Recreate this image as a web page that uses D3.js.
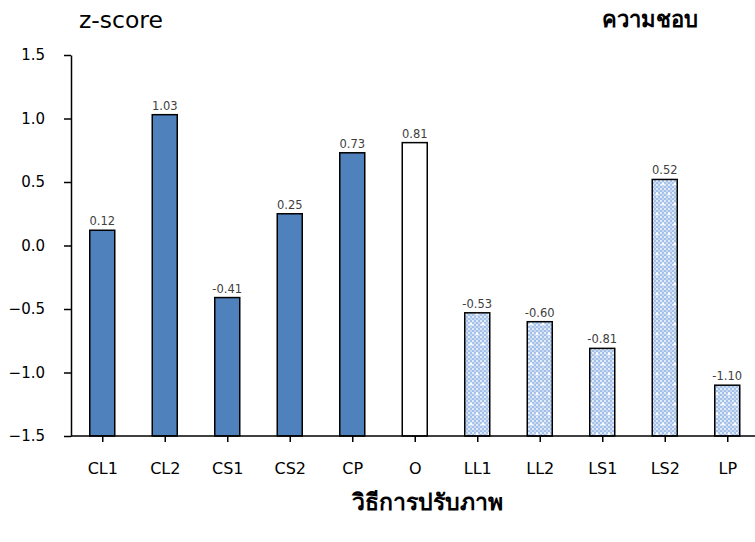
<!DOCTYPE html>
<html><head><meta charset="utf-8">
<script src="https://cdn.jsdelivr.net/npm/d3@7"></script>
<style>body{margin:0;background:#fff;}svg{display:block;}</style>
</head><body>
<svg id="c" width="755" height="542"></svg>
<script>
const categories = ["CL1","CL2","CS1","CS2","CP","O","LL1","LL2","LS1","LS2","LP"];
const values = [0.12,1.03,-0.41,0.25,0.73,0.81,-0.53,-0.60,-0.81,0.52,-1.10];
const valueLabels = ["0.12","1.03","-0.41","0.25","0.73","0.81","-0.53","-0.60","-0.81","0.52","-1.10"];
const groups = ["solid","solid","solid","solid","solid","empty","pattern","pattern","pattern","pattern","pattern"];
const yTicks = [-1.5,-1.0,-0.5,0.0,0.5,1.0,1.5];
const yTitle = "z-score";
const cornerTitle = "ความชอบ";
const xTitle = "วิธีการปรับภาพ";

const FONT = "'DejaVu Sans', Verdana, sans-serif";
const svg = d3.select("#c");
const defs = svg.append("defs");
const pat = defs.append("pattern").attr("id","dots").attr("patternUnits","userSpaceOnUse")
  .attr("width",4).attr("height",4);
pat.append("rect").attr("width",4).attr("height",4).attr("fill","#a3c0e8");
pat.append("rect").attr("x",0).attr("y",0).attr("width",2).attr("height",2).attr("fill","#e2ebf8");
pat.append("rect").attr("x",2).attr("y",2).attr("width",2).attr("height",2).attr("fill","#c9daf2");
const sp = defs.append("pattern").attr("id","spark").attr("patternUnits","userSpaceOnUse")
  .attr("width",12).attr("height",20);
sp.append("rect").attr("width",12).attr("height",20).attr("fill","url(#dots)");
sp.append("circle").attr("cx",3).attr("cy",4).attr("r",1.4).attr("fill","#fff");
sp.append("circle").attr("cx",9).attr("cy",14).attr("r",1.4).attr("fill","#fff");

const xc = d3.scalePoint().domain(categories).range([71+31.25, 758.5-31.25]);
const y = d3.scaleLinear().domain([-1.5,1.5]).range([436,55]);

const bw = 25;
const fillFor = g => g==="solid" ? "#4f81bd" : g==="empty" ? "#ffffff" : "url(#spark)";

svg.selectAll("rect.bar").data(categories).enter().append("rect")
  .attr("class","bar")
  .attr("x", (d)=> xc(d)-bw/2)
  .attr("y", (d,i)=> y(values[i]))
  .attr("width", bw)
  .attr("height", (d,i)=> y(-1.5)-y(values[i]))
  .attr("fill", (d,i)=> fillFor(groups[i]))
  .attr("stroke","#000").attr("stroke-width",1.5);

svg.selectAll("text.vl").data(categories).enter().append("text")
  .attr("x", d=> xc(d)).attr("y",(d,i)=> y(values[i])-5)
  .attr("text-anchor","middle")
  .attr("font-family",FONT).attr("font-size",11.5)
  .attr("fill","#404040")
  .text((d,i)=> valueLabels[i]);

// Y axis
const yAxis = d3.axisLeft(y).tickValues(yTicks).tickFormat(d3.format(".1f")).tickSize(7).tickSizeOuter(0);
const yg = svg.append("g").attr("transform","translate(71,0)").call(yAxis);
yg.select(".domain").attr("stroke","#000").attr("stroke-width",1.5);
yg.selectAll(".tick line").attr("stroke","#000").attr("stroke-width",1.5);
yg.selectAll(".tick text").attr("x",-26).attr("font-family",FONT)
  .attr("font-size",15).attr("fill","#000");

// X axis
const xAxis = d3.axisBottom(xc).tickSize(6).tickSizeOuter(0).tickPadding(21);
const xg = svg.append("g").attr("transform","translate(0,436)").call(xAxis);
xg.select(".domain").attr("d","M71,0H758").attr("stroke","#000").attr("stroke-width",1.5);
xg.selectAll(".tick line").attr("stroke","#000").attr("stroke-width",1.5);
xg.selectAll(".tick text").attr("font-family",FONT)
  .attr("font-size",16).attr("fill","#000");

svg.append("text").attr("x",79).attr("y",28).attr("font-family",FONT)
  .attr("font-size",23.5).attr("fill","#000").text(yTitle);
svg.append("text").attr("x",650).attr("y",27).attr("text-anchor","middle")
  .attr("font-family","'Noto Sans', sans-serif")
  .attr("font-size",22).attr("font-weight","bold").attr("fill","#000").text(cornerTitle);
svg.append("text").attr("x",427).attr("y",510).attr("text-anchor","middle")
  .attr("font-family","'Noto Sans', sans-serif")
  .attr("font-size",23).attr("font-weight","bold").attr("fill","#000").text(xTitle);
</script>
</body></html>
